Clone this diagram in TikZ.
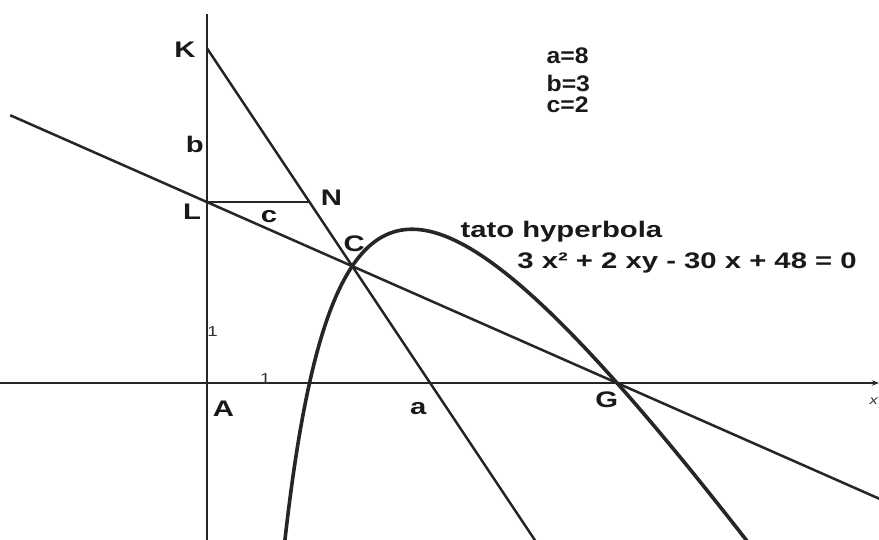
\documentclass[tikz,border=0pt]{standalone}
\usepackage{fontspec}
\setmainfont{Liberation Sans}[FakeStretch=1.3]
\newfontfamily\parfont{Liberation Sans}[FakeStretch=1.1]
\usetikzlibrary{calc,arrows.meta}

\begin{document}
\begin{tikzpicture}[
    line join=round,
    lbl/.style={font=\bfseries\fontsize{12.5}{13}\selectfont, inner sep=0pt, text=black!90},
    par/.style={lbl, font=\parfont\bfseries\fontsize{12.5}{13}\selectfont, anchor=base west},
    tick/.style={font=\fontsize{8}{8}\selectfont, inner sep=0pt, text=black!80},
    axis/.style={line width=1.6pt, draw=black!85},
    lin/.style={line width=1.4pt, draw=black!85},
    curve/.style={line width=2pt, draw=black!85}
  ]
    \useasboundingbox (-4.039,-3.063) rectangle (13.112,7.473);
    \coordinate (A) at (0,0);
    \coordinate (xl) at (-4.039,0);
    \coordinate (xr) at (13.112,0);
    \coordinate (yt) at (0,7.2);
    \coordinate (yb) at (0,-3.063);
    \coordinate (L) at (0,3.53);
    \coordinate (K) at (0,6.53);
    \coordinate (N) at (2,3.53);
    \coordinate (G) at (8,0);
    \coordinate (C) at (intersection of K--N and L--G);
    \coordinate (kn) at ($(K)!3.2!(N)$);
    \coordinate (gl1) at ($(G)!1.48!(L)$);
    \coordinate (gl2) at ($(G)!-0.64!(L)$);

    \draw[axis, -{Stealth[length=4pt, width=3pt]}] (xl) -- (xr);
    \draw[axis] (yb) -- (yt);
    \draw[lin] (K) -- (kn);
    \draw[lin] (gl1) -- (gl2);
    \draw[lin] (L) -- (N);
    \begin{scope}
      \clip (-4.039,-3.063) rectangle (13.112,7.473);
      \draw[curve, domain=1.5:10.55, samples=200, smooth] plot (\x, {15 - 24/\x - 1.5*\x});
    \end{scope}

    \node[lbl] (klbl) at (-0.43,6.51) {K};
    \node[lbl] (blbl) at (-0.24,4.65) {b};
    \node[lbl] (llbl) at (-0.29,3.35) {L};
    \node[lbl] (clbl) at (1.21,3.25) {c};
    \node[lbl] (nlbl) at (2.43,3.62) {N};
    \node[lbl] (cptlbl) at (2.87,2.71) {C};
    \node[lbl] (albl) at (0.32,-0.50) {A};
    \node[lbl] (alen) at (4.12,-0.50) {a};
    \node[lbl] (glbl) at (7.80,-0.32) {G};
    \node[tick, font=\fontsize{7}{7}\selectfont\itshape] (xlbl) at (13.01,-0.35) {x};
    \node[tick] (yone) at (0.11,1.00) {1};
    \node[tick] (xone) at (1.14,0.09) {1};

    \node[lbl, anchor=base west] (hyp) at (4.94,2.83) {tato hyperbola};
    \node[lbl, anchor=base west] (eq) at (6.05,2.24) {3 x² + 2 xy - 30 x + 48 = 0};
    \node[par] (pa) at (6.62,6.24) {a=8};
    \node[par] (pb) at (6.62,5.68) {b=3};
    \node[par] (pc) at (6.62,5.27) {c=2};
  \end{tikzpicture}
\end{document}
